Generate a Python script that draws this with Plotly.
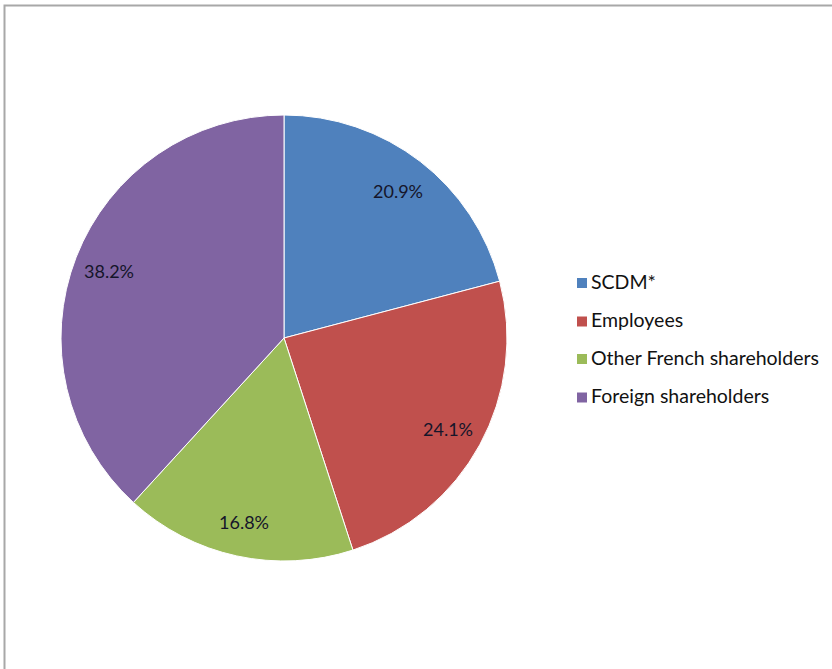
import math
import plotly.graph_objects as go

labels = ["SCDM*", "Employees", "Other French shareholders", "Foreign shareholders"]
values = [20.9, 24.1, 16.8, 38.2]
text_labels = ["20.9%", "24.1%", "16.8%", "38.2%"]
colors = ["#4F81BD", "#C0504D", "#9BBB59", "#8064A2"]

W, H = 832, 669
cx, cy, R = 284, 338, 223  # pie centre / radius in pixels

def px(x):
    return x / W

def py(y):
    return 1 - y / H

fig = go.Figure()
fig.add_trace(go.Pie(
    labels=labels, values=values, sort=False, direction="clockwise", rotation=0,
    marker=dict(colors=colors, line=dict(color="white", width=1)),
    textinfo="none", hoverinfo="label+percent", showlegend=False,
    domain=dict(x=[px(cx - R), px(cx + R)], y=[py(cy + R), py(cy - R)]),
))

annotations = []
total = sum(values)
cum = 0
for v, t in zip(values, text_labels):
    mid = 90 - (cum + v / 2) / total * 360
    cum += v
    r = 0.84 * R
    x = cx + r * math.cos(math.radians(mid))
    y = cy - r * math.sin(math.radians(mid)) + 1
    annotations.append(dict(x=px(x), y=py(y), xref="paper", yref="paper", text=t,
                            xanchor="center", yanchor="middle",
                            showarrow=False, font=dict(family="Lato", size=18, color="#15152a")))

legend_y = [283, 321.5, 359, 397.5]
shapes = []
for lab, col, ly in zip(labels, colors, legend_y):
    shapes.append(dict(type="rect", xref="paper", yref="paper",
                       x0=px(577), x1=px(587), y0=py(ly + 5), y1=py(ly - 5),
                       fillcolor=col, line=dict(width=0)))
    annotations.append(dict(x=px(589), y=py(ly - 2), xref="paper", yref="paper", text=lab,
                            xanchor="left", yanchor="middle", showarrow=False,
                            font=dict(family="Lato", size=19.5, color="#111111")))

shapes.append(dict(type="rect", xref="paper", yref="paper",
                   x0=px(4.5), x1=px(845), y0=py(690), y1=py(5.5),
                   line=dict(color="#A8A8A8", width=2), fillcolor="rgba(0,0,0,0)"))

fig.update_layout(width=W, height=H, margin=dict(l=0, r=0, t=0, b=0),
                  paper_bgcolor="white", plot_bgcolor="white",
                  annotations=annotations, shapes=shapes)

fig.write_html("out.html")
